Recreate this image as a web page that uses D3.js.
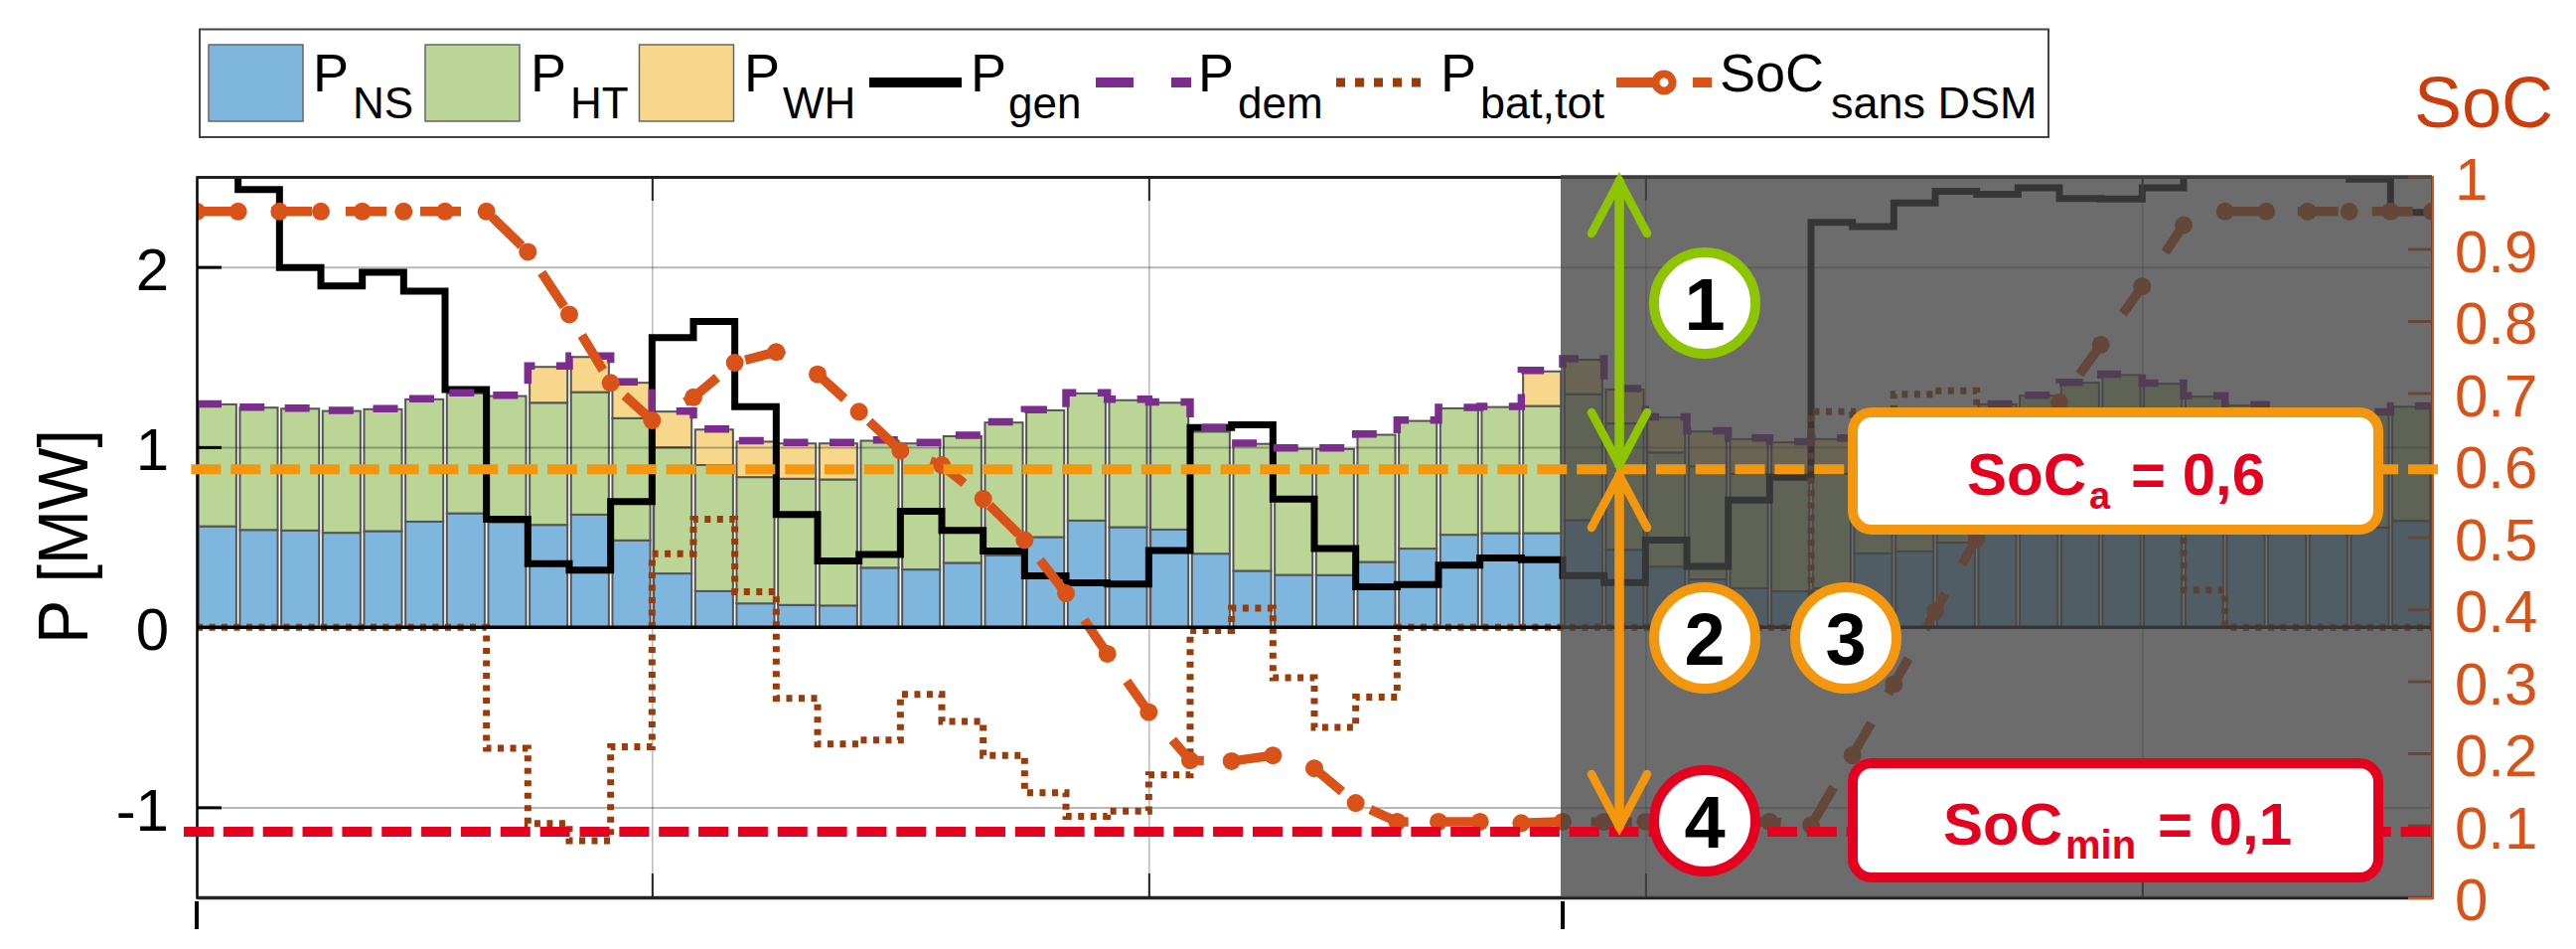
<!DOCTYPE html>
<html>
<head>
<meta charset="utf-8">
<script src="https://cdn.jsdelivr.net/npm/d3@7"></script>
<style>
  html, body { margin: 0; padding: 0; background: #fff; }
  svg { display: block; }
  text { font-family: "Liberation Sans", Arial, sans-serif; }
</style>
</head>
<body>
<div id="chart"></div>
<script>
// values, one entry per half hour
const pNS = [0.56,0.54,0.537,0.524,0.533,0.586,0.632,0.583,0.568,0.625,0.482,0.298,0.2,0.132,0.123,0.12,0.33,0.32,0.357,0.4,0.5,0.592,0.555,0.542,0.408,0.3125,0.29,0.289,0.362,0.436,0.513,0.522,0.522,0.594,0.43,0.336,0.265,0.217,0.199,0.217,0.41,0.421,0.47,0.53,0.58,0.65,0.69,0.645,0.575,0.525,0.52,0.52,0.553,0.59];
const pHT = [0.677,0.679,0.676,0.676,0.677,0.679,0.666,0.7,0.678,0.68,0.678,0.7,0.7,0.701,0.701,0.7,0.705,0.7,0.703,0.736,0.704,0.706,0.705,0.704,0.677,0.705,0.7,0.7,0.706,0.709,0.702,0.7,0.706,0.699,0.701,0.634,0.628,0.634,0.634,0.634,0.66,0.69,0.7,0.707,0.705,0.707,0.71,0.706,0.705,0.705,0.66,0.65,0.638,0.634];
const pWH = [0,0,0,0,0,0,0,0,0.199,0.195,0.197,0.199,0.197,0.197,0.196,0.2,0,0,0,0,0,0,0,0,0,0,0,0,0,0,0,0,0.192,0.192,0.189,0.194,0.193,0.193,0.193,0.193,0,0,0,0,0,0,0,0,0,0,0,0,0,0];
const pGen = [2.6,2.43,1.996,1.895,1.97,1.866,1.32,0.6,0.353,0.316,0.697,1.608,1.697,1.224,0.625,0.368,0.404,0.643,0.537,0.423,0.285,0.246,0.239,0.426,1.108,1.123,0.711,0.436,0.224,0.237,0.344,0.384,0.375,0.286,0.248,0.484,0.337,0.706,0.833,2.248,2.224,2.355,2.42,2.404,2.44,2.38,2.377,2.44,2.6,2.6,2.6,2.6,2.487,2.303];
const pDem = [1.24,1.222,1.216,1.203,1.213,1.268,1.302,1.288,1.45,1.505,1.362,1.2,1.1,1.035,1.025,1.025,1.04,1.025,1.065,1.14,1.208,1.302,1.265,1.25,1.108,1.022,0.995,0.995,1.072,1.15,1.22,1.226,1.425,1.49,1.325,1.168,1.09,1.05,1.03,1.05,1.075,1.115,1.175,1.24,1.288,1.36,1.405,1.355,1.285,1.235,1.185,1.175,1.195,1.228];
const pBat = [0,0,0,0,0,0,0,-0.673,-1.09,-1.186,-0.664,0.408,0.6,0.197,-0.395,-0.649,-0.627,-0.373,-0.524,-0.713,-0.919,-1.05,-1.022,-0.82,-0.018,0.105,-0.28,-0.557,-0.388,0,0,0,0,0,0,0,0,0,0,1.197,1.18,1.293,1.313,1.16,1.15,1.02,0.97,1.08,0.206,0,0,0,0,0];
// SoC is read at the bar edges, so it has one point more
const socSansDSM = [0.952,0.952,0.952,0.952,0.952,0.952,0.952,0.952,0.896,0.809,0.714,0.662,0.694,0.742,0.757,0.726,0.674,0.62,0.6,0.553,0.496,0.422,0.338,0.257,0.19,0.189,0.197,0.179,0.131,0.105,0.105,0.105,0.103,0.105,0.105,0.105,0.105,0.105,0.105,0.1,0.197,0.296,0.397,0.498,0.6,0.687,0.767,0.848,0.933,0.952,0.952,0.952,0.952,0.952,0.952];

const pTicks = [-1, 0, 1, 2];
const socTicks = [0,0.1,0.2,0.3,0.4,0.5,0.6,0.7,0.8,0.9,1];
const gridSlots = [11, 23, 35, 47];
const markSlots = [0, 33];
const socA = 0.594, socMin = 0.091;

const blue = "#7FB6DE", green = "#BBD596", yellow = "#F6D78C";
const purple = "#7B2D8E", brown = "#9A3B0A", socColor = "#D95319";
const amber = "#F3970F", red = "#E60020", lime = "#8FC400";

const W = 2593, H = 955;
const xL = 198, xR = 2448, yT = 178, yB = 903;

const svg = d3.select("#chart").append("svg").attr("width", W).attr("height", H);

const x = d3.scaleLinear().domain([0, 54]).range([xL, xR]);
const y = d3.scaleLinear().domain([-1.5, 2.5]).range([yB, yT]);
const ySoc = d3.scaleLinear().domain([0, 1]).range([yB, yT]);

svg.append("clipPath").attr("id", "plot").append("rect")
    .attr("x", xL).attr("y", yT).attr("width", xR - xL).attr("height", yB - yT);

// stacked bars
const series = d3.stack().keys(["ns", "ht", "wh"])(pNS.map((d, i) => ({ns: d, ht: pHT[i], wh: pWH[i]})));
const barColors = [blue, green, yellow];
svg.append("g").selectAll("g").data(series).join("g")
    .attr("fill", (d, i) => barColors[i])
    .selectAll("rect").data(d => d.map((v, i) => ({v, i})).filter(e => e.v[1] > e.v[0])).join("rect")
    .attr("x", d => x(d.i) + 1.8)
    .attr("width", d => x(d.i + 1) - x(d.i) - 3.6)
    .attr("y", d => y(d.v[1]))
    .attr("height", d => y(d.v[0]) - y(d.v[1]))
    .attr("stroke", "#555").attr("stroke-width", 2);

// grid goes over the bars, it shows faintly through them
svg.append("g").attr("transform", `translate(${xL},0)`)
    .call(d3.axisLeft(y).tickValues([-1, 1, 2]).tickSize(-(xR - xL)).tickFormat(""))
    .call(g => g.select(".domain").remove())
    .selectAll("line").attr("stroke", "#000").attr("stroke-opacity", 0.28).attr("stroke-width", 2);
svg.append("g").attr("transform", `translate(0,${yB})`)
    .call(d3.axisBottom(x).tickValues(gridSlots).tickSize(-(yB - yT)).tickFormat(""))
    .call(g => g.select(".domain").remove())
    .selectAll("line").attr("stroke", "#000").attr("stroke-opacity", 0.28).attr("stroke-width", 1.5);

// lines
const stairs = d3.line().x((d, i) => x(i)).y(d => y(d)).curve(d3.curveStepAfter);
const plot = svg.append("g").attr("clip-path", "url(#plot)");
plot.append("path").attr("d", stairs(pGen.concat(pGen[pGen.length - 1])))
    .attr("fill", "none").attr("stroke", "#000").attr("stroke-width", 7);
plot.append("path").attr("d", stairs(pDem.concat(pDem[pDem.length - 1])))
    .attr("fill", "none").attr("stroke", purple).attr("stroke-width", 7.5).attr("stroke-dasharray", "25,21.5");
plot.append("path").attr("d", stairs(pBat.concat(pBat[pBat.length - 1])))
    .attr("fill", "none").attr("stroke", brown).attr("stroke-width", 7).attr("stroke-dasharray", "6,6.5");
plot.append("path").attr("d", d3.line().x((d, i) => x(i)).y(d => ySoc(d))(socSansDSM))
    .attr("fill", "none").attr("stroke", socColor).attr("stroke-width", 9.5).attr("stroke-dasharray", "41,34");
plot.selectAll("circle").data(socSansDSM).join("circle")
    .attr("cx", (d, i) => x(i)).attr("cy", d => ySoc(d)).attr("r", 9).attr("fill", socColor);

// left axis, zero line, frame
const leftAxis = svg.append("g").attr("transform", `translate(${xL},0)`)
    .call(d3.axisLeft(y).tickValues(pTicks).tickSize(-25).tickPadding(28).tickFormat(d => String(d)));
leftAxis.select(".domain").attr("stroke", "#000").attr("stroke-width", 2.5);
leftAxis.selectAll("line").attr("stroke", "#000").attr("stroke-width", 3);
leftAxis.selectAll("text").attr("font-size", 60).attr("dy", ".38em").attr("fill", "#000")
    .style("font-family", '"Liberation Sans", Arial, sans-serif');
svg.append("line").attr("x1", xL).attr("x2", xR).attr("y1", y(0)).attr("y2", y(0))
    .attr("stroke", "#000").attr("stroke-width", 3.5);
svg.append("g").attr("transform", `translate(0,${yT})`)
    .call(d3.axisTop(x).tickValues(gridSlots).tickSizeInner(-24).tickSizeOuter(0).tickFormat(""))
    .call(g => g.select(".domain").attr("stroke", "#222").attr("stroke-width", 3))
    .selectAll("line").attr("stroke", "#222").attr("stroke-width", 2);
svg.append("g").attr("transform", `translate(0,${yB})`)
    .call(d3.axisBottom(x).tickValues(gridSlots).tickSizeInner(-24).tickSizeOuter(0).tickFormat(""))
    .call(g => g.select(".domain").attr("stroke", "#222").attr("stroke-width", 3.5))
    .selectAll("line").attr("stroke", "#222").attr("stroke-width", 2);

// right axis
const rightAxis = svg.append("g").attr("transform", `translate(${xR},0)`)
    .call(d3.axisRight(ySoc).tickValues(socTicks).tickSize(-24).tickPadding(23).tickFormat(d => String(d)));
rightAxis.select(".domain").attr("stroke", socColor).attr("stroke-width", 3);
rightAxis.selectAll("line").attr("stroke", socColor).attr("stroke-width", 3);
rightAxis.selectAll("text").attr("font-size", 60).attr("dy", ".38em").attr("fill", socColor)
    .style("font-family", '"Liberation Sans", Arial, sans-serif');

// long marks under the axis
svg.append("g").selectAll("line").data(markSlots).join("line")
    .attr("x1", d => x(d)).attr("x2", d => x(d)).attr("y1", 907).attr("y2", 935)
    .attr("stroke", "#000").attr("stroke-width", 4);

// grey shade over the second part of the day
svg.append("rect").attr("x", 1571).attr("y", 176).attr("width", xR - 1571).attr("height", yB - 176)
    .attr("fill", "rgb(68,68,68)").attr("fill-opacity", 0.79);

// threshold lines
svg.append("line").attr("x1", 192.4).attr("x2", 2455).attr("y1", ySoc(socA)).attr("y2", ySoc(socA))
    .attr("stroke", amber).attr("stroke-width", 10).attr("stroke-dasharray", "30,9.85");
svg.append("line").attr("x1", 185).attr("x2", xR).attr("y1", ySoc(socMin)).attr("y2", ySoc(socMin))
    .attr("stroke", red).attr("stroke-width", 10).attr("stroke-dasharray", "30,9.85");

// y title and SoC title
svg.append("text").attr("transform", "translate(88,540) rotate(-90)").attr("text-anchor", "middle")
    .attr("font-size", 70).attr("textLength", 216).attr("lengthAdjust", "spacingAndGlyphs").text("P [MW]");
svg.append("text").attr("x", 2430).attr("y", 128).attr("font-size", 72).attr("fill", "#CC3D0B").text("SoC");

// double arrows
function arrow(x0, y0, y1, color) {
  const g = svg.append("g").attr("stroke", color).attr("fill", "none").attr("stroke-linecap", "round");
  g.append("line").attr("x1", x0).attr("x2", x0).attr("y1", y0).attr("y2", y1).attr("stroke-width", 9.5);
  g.append("path").attr("stroke-width", 8.5).attr("stroke-linejoin", "miter")
      .attr("d", `M${x0 - 28},${y0 + 53}L${x0},${y0}L${x0 + 28},${y0 + 53}`);
  g.append("path").attr("stroke-width", 8.5).attr("stroke-linejoin", "miter")
      .attr("d", `M${x0 - 28},${y1 - 53}L${x0},${y1}L${x0 + 28},${y1 - 53}`);
}
arrow(1630, 182, 468, lime);
arrow(1630, 478, 832, amber);

// numbered circles
const badges = [
  {label: "1", cx: 1716, cy: 305, color: lime},
  {label: "2", cx: 1716, cy: 642, color: amber},
  {label: "3", cx: 1858, cy: 642, color: amber},
  {label: "4", cx: 1716, cy: 826, color: red}
];
const badge = svg.append("g").selectAll("g").data(badges).join("g");
badge.append("circle").attr("cx", d => d.cx).attr("cy", d => d.cy).attr("r", 51)
    .attr("fill", "#fff").attr("stroke", d => d.color).attr("stroke-width", 10);
badge.append("text").attr("x", d => d.cx).attr("y", d => d.cy + 27).attr("text-anchor", "middle")
    .attr("font-size", 74).attr("font-weight", "bold").attr("fill", "#000").text(d => d.label);

// threshold boxes
function thresholdBox(y0, y1, color) {
  svg.append("rect").attr("x", 1865).attr("y", y0 + 5).attr("width", 529).attr("height", y1 - y0 - 10)
      .attr("rx", 19).attr("fill", "#fff").attr("stroke", color).attr("stroke-width", 10);
}
function boxText(xPos, yPos, size, str) {
  svg.append("text").attr("x", xPos).attr("y", yPos).attr("font-size", size).attr("font-weight", "bold")
      .attr("fill", red).text(str);
}
thresholdBox(410, 538, amber);
boxText(1980, 498, 60, "SoC");
boxText(2103, 512, 38, "a");
boxText(2145, 498, 60, "= 0,6");
thresholdBox(763, 888, red);
boxText(1956, 850, 60, "SoC");
boxText(2079, 864, 40, "min");
boxText(2172, 850, 60, "= 0,1");

// legend
const legend = svg.append("g");
legend.append("rect").attr("x", 201).attr("y", 29.5).attr("width", 1861).attr("height", 108.5)
    .attr("fill", "#fff").attr("stroke", "#444").attr("stroke-width", 2);
[[210, blue], [428, green], [643.5, yellow]].forEach(s => {
  legend.append("rect").attr("x", s[0]).attr("y", 45).attr("width", 95).attr("height", 77)
      .attr("fill", s[1]).attr("stroke", "#666").attr("stroke-width", 1.5);
});
function legendLabel(xMain, main, xSub, sub, subSize) {
  legend.append("text").attr("x", xMain).attr("y", 92).attr("font-size", 54).text(main);
  legend.append("text").attr("x", xSub).attr("y", 119).attr("font-size", subSize || 44).text(sub);
}
legendLabel(315, "P", 355, "NS");
legendLabel(534, "P", 574, "HT");
legendLabel(749, "P", 788, "WH");
legendLabel(977, "P", 1015, "gen");
legendLabel(1206, "P", 1246, "dem");
legendLabel(1450, "P", 1490, "bat,tot", 45);
legendLabel(1731, "SoC", 1843, "sans DSM", 45);
legend.append("line").attr("x1", 875).attr("x2", 968).attr("y1", 83).attr("y2", 83)
    .attr("stroke", "#000").attr("stroke-width", 10);
legend.append("line").attr("x1", 1103).attr("x2", 1199).attr("y1", 83).attr("y2", 83)
    .attr("stroke", purple).attr("stroke-width", 10).attr("stroke-dasharray", "38,38,20");
legend.append("line").attr("x1", 1345).attr("x2", 1433).attr("y1", 83).attr("y2", 83)
    .attr("stroke", brown).attr("stroke-width", 9).attr("stroke-dasharray", "9,10");
legend.append("line").attr("x1", 1627).attr("x2", 1723).attr("y1", 83).attr("y2", 83)
    .attr("stroke", socColor).attr("stroke-width", 10).attr("stroke-dasharray", "48,29,19");
legend.append("circle").attr("cx", 1675).attr("cy", 83).attr("r", 8.5)
    .attr("fill", "#fff").attr("stroke", socColor).attr("stroke-width", 8);
</script>
</body>
</html>
